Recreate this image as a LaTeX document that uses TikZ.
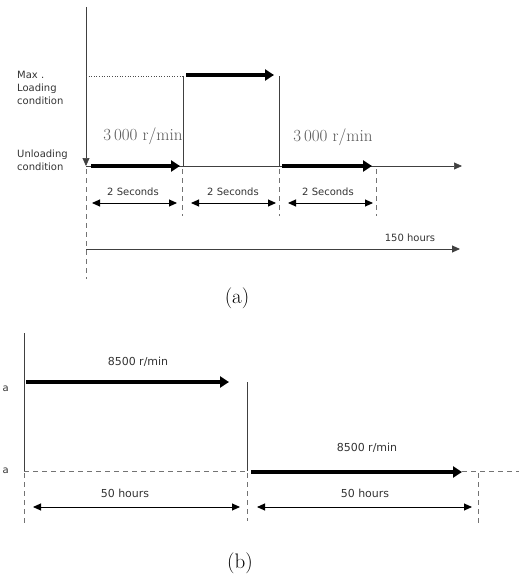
\documentclass[tikz,border=0pt]{standalone}
\usepackage{fontspec}
\newfontfamily\labelfont{DejaVu Sans}
\usetikzlibrary{arrows.meta}

\tikzset{
  thinline/.style={draw=black!75, line width=0.7pt},
  axisarrow/.style={thinline, -{Triangle[length=8pt,width=7pt]}},
  loadarrow/.style={line width=4pt, -{Triangle[length=9pt,width=11pt]}},
  dimarrow/.style={line width=0.9pt, {Triangle[length=8pt,width=7pt]}-{Triangle[length=8pt,width=7pt]}},
  guide/.style={draw=black!55, line width=0.7pt, dash pattern=on 5pt off 4pt},
  lbl/.style={font=\labelfont\fontsize{10}{13}\selectfont, text=black!80, inner sep=0pt},
  lblbig/.style={lbl, font=\labelfont\fontsize{11}{13}\selectfont},
  rpm/.style={font=\fontsize{17}{19}\selectfont, text=black!65, inner sep=0pt},
  caption/.style={font=\fontsize{21}{24}\selectfont, inner sep=0pt}
}

\begin{document}
\begin{tikzpicture}[x=1pt, y=-1pt]
\useasboundingbox (0,0) rectangle (519,575);

    % (a): axes
    \coordinate (aTop) at (86,7);
    \coordinate (aO) at (86,166);
    \coordinate (aEnd) at (462,166);
    \draw[axisarrow] (aTop) -- (aO);
    \draw[axisarrow] (aO) -- (aEnd);

    \node[lbl, align=left, anchor=north west] (maxlbl) at (17,71) {Max .\\Loading\\condition};
    \node[lbl, align=left, anchor=west] (unloadlbl) at (17,160) {Unloading\\condition};

    % (a): load steps
    \coordinate (aMax) at (86,76);
    \coordinate (s1Top) at (183,76);
    \coordinate (s1Bot) at (183,166);
    \coordinate (s2Top) at (279,76);
    \coordinate (s2Bot) at (279,166);
    \draw[black!70, line width=0.6pt, dotted] (aMax) -- (s1Top);
    \draw[thinline] (s1Top) -- (s1Bot);
    \draw[thinline] (s2Top) -- (s2Bot);

    \coordinate (l1a) at (91,166);  \coordinate (l1b) at (180,166);
    \coordinate (l2a) at (186,75);  \coordinate (l2b) at (274,75);
    \coordinate (l3a) at (282,166); \coordinate (l3b) at (372,166);
    \draw[loadarrow] (l1a) -- (l1b);
    \draw[loadarrow] (l2a) -- (l2b);
    \draw[loadarrow] (l3a) -- (l3b);

    \node[rpm] (rpmA) at (143,136) {3\,000 r/min};
    \node[rpm] (rpmB) at (333,137) {3\,000 r/min};

    % (a): time marks
    \coordinate (g0a) at (86,169);  \coordinate (g0b) at (86,279);
    \coordinate (g1a) at (182,169); \coordinate (g1b) at (182,216);
    \coordinate (g2a) at (279,169); \coordinate (g2b) at (279,216);
    \coordinate (g3a) at (376,169); \coordinate (g3b) at (376,216);
    \draw[guide] (g0a) -- (g0b);
    \draw[guide] (g1a) -- (g1b);
    \draw[guide] (g2a) -- (g2b);
    \draw[guide] (g3a) -- (g3b);

    \coordinate (d1a) at (92,203);  \coordinate (d1b) at (177,203);
    \coordinate (d2a) at (191,203); \coordinate (d2b) at (276,203);
    \coordinate (d3a) at (288,203); \coordinate (d3b) at (373,203);
    \draw[dimarrow] (d1a) -- (d1b);
    \draw[dimarrow] (d2a) -- (d2b);
    \draw[dimarrow] (d3a) -- (d3b);
    \node[lbl] (secA) at (133,192) {2 Seconds};
    \node[lbl] (secB) at (233,192) {2 Seconds};
    \node[lbl] (secC) at (328,192) {2 Seconds};

    \coordinate (hStart) at (86,249);
    \coordinate (hEnd) at (460,249);
    \draw[axisarrow, line width=0.9pt] (hStart) -- (hEnd);
    \node[lbl] (hoursA) at (410,238) {150 hours};

    \node[caption] (capA) at (237,298) {(a)};

    % (b): speed steps
    \coordinate (bTop) at (24,333);
    \coordinate (bO) at (24,471);
    \coordinate (bMid) at (247,382);
    \coordinate (bMidO) at (247,471);
    \coordinate (bTail) at (462,471);
    \coordinate (bEdge) at (519,471);
    \draw[thinline] (bTop) -- (bO);
    \draw[thinline] (bMid) -- (bMidO);
    \draw[guide] (bO) -- (bMidO);
    \draw[guide] (bTail) -- (bEdge);

    \coordinate (m1a) at (26,382);  \coordinate (m1b) at (229,382);
    \coordinate (m2a) at (251,472); \coordinate (m2b) at (462,472);
    \draw[loadarrow] (m1a) -- (m1b);
    \draw[loadarrow] (m2a) -- (m2b);
    \node[lblbig] (rpmC) at (138,362) {8500 r/min};
    \node[lblbig] (rpmD) at (367,448) {8500 r/min};

    \node[lbl, anchor=east] (hiA) at (9,389) {a};
    \node[lbl, anchor=east] (loA) at (9,471) {a};

    % (b): time marks
    \coordinate (t0a) at (24,473);  \coordinate (t0b) at (24,526);
    \coordinate (t1a) at (247,473); \coordinate (t1b) at (247,521);
    \coordinate (t2a) at (478,473); \coordinate (t2b) at (478,523);
    \draw[guide] (t0a) -- (t0b);
    \draw[guide] (t1a) -- (t1b);
    \draw[guide] (t2a) -- (t2b);

    \coordinate (e1a) at (33,507);  \coordinate (e1b) at (240,507);
    \coordinate (e2a) at (257,507); \coordinate (e2b) at (472,507);
    \draw[dimarrow] (e1a) -- (e1b);
    \draw[dimarrow] (e2a) -- (e2b);
    \node[lblbig] (hoursB) at (125,493) {50 hours};
    \node[lblbig] (hoursC) at (365,493) {50 hours};

    \node[caption] (capB) at (240,563) {(b)};
\end{tikzpicture}
\end{document}
